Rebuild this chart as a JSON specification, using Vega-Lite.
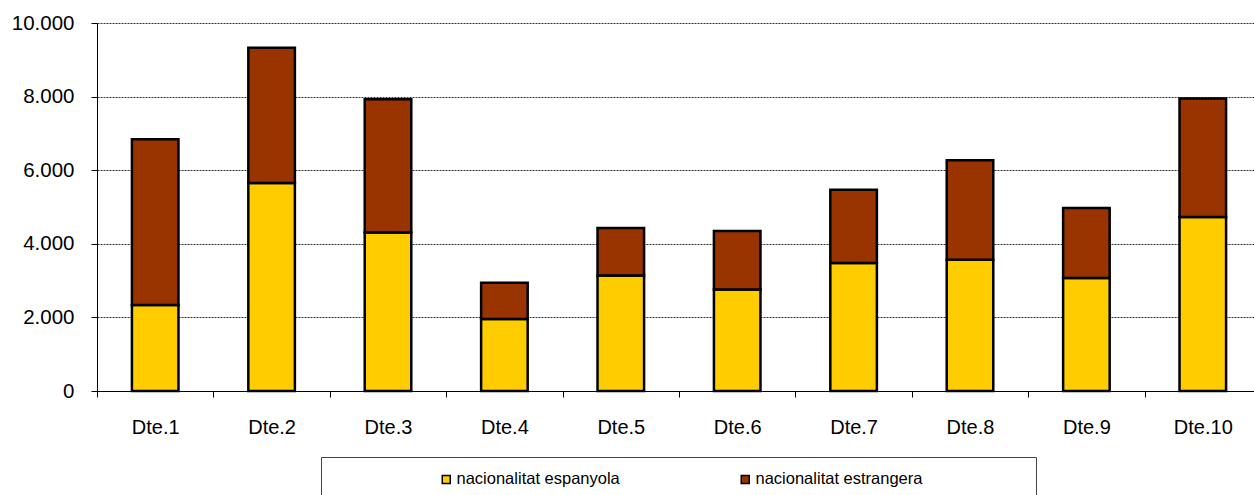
{
  "$schema": "https://vega.github.io/schema/vega-lite/v6.json",
  "autosize": {"type": "none"},
  "width": 1157,
  "height": 368,
  "padding": {"left": 97, "top": 23, "right": 0, "bottom": 104},
  "background": "white",
  "config": {
    "font": "Liberation Sans",
    "view": {"stroke": null},
    "axis": {"labelColor": "black", "labelFont": "Liberation Sans", "domainColor": "black", "tickColor": "black"}
  },
  "data": {
    "values": [
      {"dte": "Dte.1", "nac": "nacionalitat espanyola", "n": 2335},
      {"dte": "Dte.1", "nac": "nacionalitat estrangera", "n": 4505},
      {"dte": "Dte.2", "nac": "nacionalitat espanyola", "n": 5655},
      {"dte": "Dte.2", "nac": "nacionalitat estrangera", "n": 3675},
      {"dte": "Dte.3", "nac": "nacionalitat espanyola", "n": 4310},
      {"dte": "Dte.3", "nac": "nacionalitat estrangera", "n": 3620},
      {"dte": "Dte.4", "nac": "nacionalitat espanyola", "n": 1955},
      {"dte": "Dte.4", "nac": "nacionalitat estrangera", "n": 985},
      {"dte": "Dte.5", "nac": "nacionalitat espanyola", "n": 3140},
      {"dte": "Dte.5", "nac": "nacionalitat estrangera", "n": 1290},
      {"dte": "Dte.6", "nac": "nacionalitat espanyola", "n": 2760},
      {"dte": "Dte.6", "nac": "nacionalitat estrangera", "n": 1590},
      {"dte": "Dte.7", "nac": "nacionalitat espanyola", "n": 3480},
      {"dte": "Dte.7", "nac": "nacionalitat estrangera", "n": 1990},
      {"dte": "Dte.8", "nac": "nacionalitat espanyola", "n": 3565},
      {"dte": "Dte.8", "nac": "nacionalitat estrangera", "n": 2705},
      {"dte": "Dte.9", "nac": "nacionalitat espanyola", "n": 3070},
      {"dte": "Dte.9", "nac": "nacionalitat estrangera", "n": 1905},
      {"dte": "Dte.10", "nac": "nacionalitat espanyola", "n": 4725},
      {"dte": "Dte.10", "nac": "nacionalitat estrangera", "n": 3220}
    ]
  },
  "mark": {"type": "bar", "stroke": "black", "strokeWidth": 2.5},
  "encoding": {
    "x": {
      "field": "dte",
      "type": "nominal",
      "sort": ["Dte.1", "Dte.2", "Dte.3", "Dte.4", "Dte.5", "Dte.6", "Dte.7", "Dte.8", "Dte.9", "Dte.10"],
      "scale": {"range": [0, 1164], "paddingInner": 0.6, "paddingOuter": 0.3},
      "axis": {
        "title": null,
        "labelAngle": 0,
        "labelFontSize": 20,
        "labelPadding": 20,
        "tickSize": 6,
        "tickOffset": -58.2,
        "labelOffset": 58.2,
        "grid": false,
        "domainWidth": 1
      }
    },
    "y": {
      "field": "n",
      "type": "quantitative",
      "aggregate": "sum",
      "stack": "zero",
      "scale": {"domain": [0, 10000], "nice": false},
      "axis": {
        "title": null,
        "values": [0, 2000, 4000, 6000, 8000, 10000],
        "labelExpr": "replace(format(datum.value, ','), ',', '.')",
        "labelFontSize": 20.5,
        "labelPadding": 17,
        "tickSize": 6,
        "grid": true,
        "gridColor": "#333",
        "gridDash": [2, 1],
        "gridWidth": 1
      }
    },
    "order": {"field": "nac", "sort": "ascending"},
    "color": {
      "field": "nac",
      "type": "nominal",
      "scale": {"domain": ["nacionalitat espanyola", "nacionalitat estrangera"], "range": ["#FFCC00", "#993300"]},
      "legend": {
        "orient": "none",
        "legendX": 224,
        "legendY": 434,
        "direction": "horizontal",
        "columns": 2,
        "columnPadding": 117,
        "title": "\u00a0",
        "titleOrient": "left",
        "titleFontSize": 16.5,
        "titlePadding": 103,
        "padding": 14,
        "strokeColor": "#444",
        "symbolType": "square",
        "symbolSize": 64,
        "symbolStrokeColor": "black",
        "symbolStrokeWidth": 1.5,
        "symbolOpacity": 1,
        "labelFontSize": 16.5,
        "labelLimit": 1000,
        "labelColor": "black",
        "labelOffset": 2,
        "labelExpr": "datum.value == 'nacionalitat estrangera' ? datum.label + '\u00a0\u00a0\u00a0\u00a0\u00a0\u00a0\u00a0\u00a0\u00a0\u00a0\u00a0\u00a0\u00a0\u00a0\u00a0\u00a0\u00a0\u00a0\u00a0\u2800' : datum.label"
      }
    }
  }
}
